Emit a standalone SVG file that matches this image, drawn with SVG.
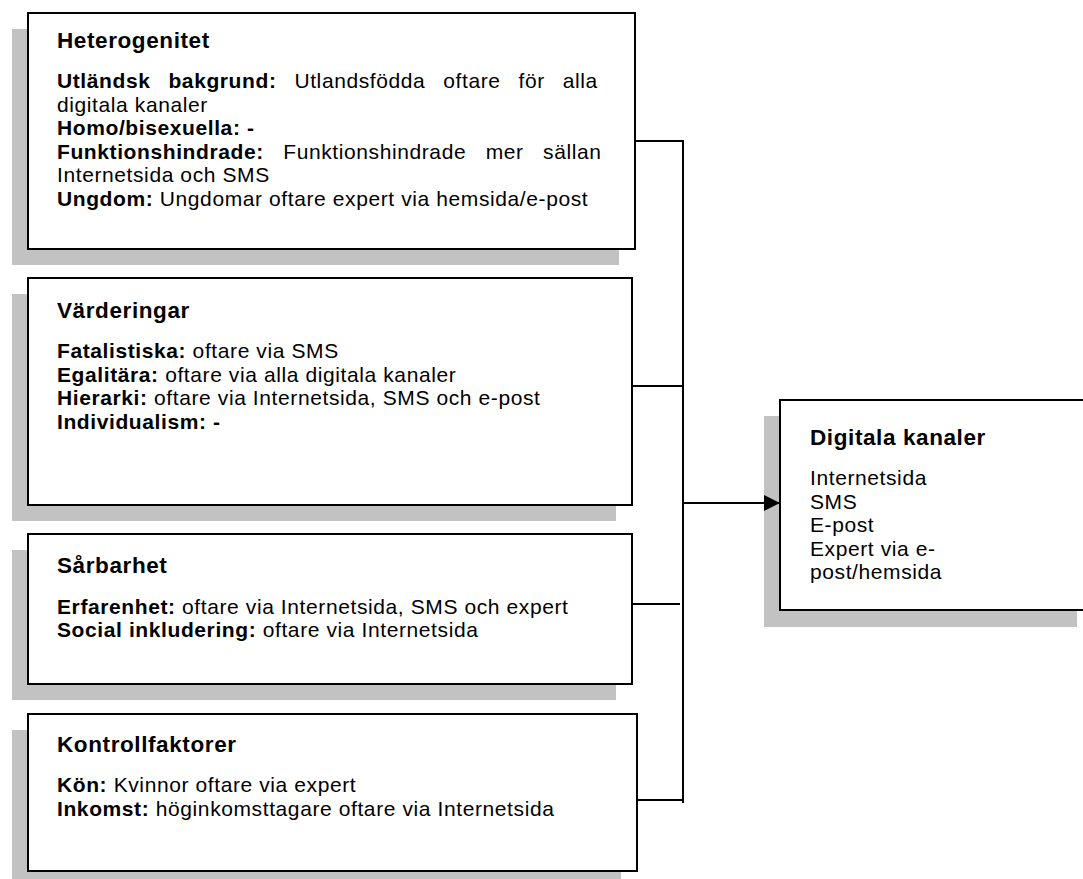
<svg xmlns="http://www.w3.org/2000/svg" width="1083" height="879" viewBox="0 0 1083 879">
<style>
.shadow{fill:#c2c2c2;}
.box{fill:#fff;stroke:#000;stroke-width:2;}
.conn{stroke:#000;stroke-width:2;fill:none;}
text{font-family:"Liberation Sans",Arial,Helvetica,sans-serif;font-size:21px;fill:#000;letter-spacing:0.6px;}
.b{font-weight:bold;}
.t{font-weight:bold;font-size:22.5px;letter-spacing:0.6px;}
</style>
<defs>
<marker id="arrow" markerWidth="16" markerHeight="16" refX="16" refY="8" orient="auto" markerUnits="userSpaceOnUse">
<path d="M0,0 L16,8 L0,16 Z" fill="#000"/>
</marker>
</defs>
<rect width="1083" height="879" fill="#fff"/>

<g id="heterogenitet">
<rect class="shadow" x="12" y="29" width="607" height="236"/>
<rect class="box" x="28" y="13" width="607" height="236"/>
<text x="57" y="47.5" class="t">Heterogenitet</text>
<text x="57" y="88" style="word-spacing:11.5px"><tspan class="b">Utländsk bakgrund:</tspan> Utlandsfödda oftare för alla</text>
<text x="57" y="111.5">digitala kanaler</text>
<text x="57" y="135" class="b">Homo/bisexuella: -</text>
<text x="57" y="158.5" style="word-spacing:13px"><tspan class="b">Funktionshindrade:</tspan> Funktionshindrade mer sällan</text>
<text x="57" y="182">Internetsida och SMS</text>
<text x="57" y="205.5"><tspan class="b">Ungdom:</tspan> Ungdomar oftare expert via hemsida/e-post</text>
</g>

<g id="varderingar">
<rect class="shadow" x="12" y="294" width="604" height="227"/>
<rect class="box" x="28" y="278" width="604" height="227"/>
<text x="57" y="318" class="t">Värderingar</text>
<text x="57" y="358"><tspan class="b">Fatalistiska:</tspan> oftare via SMS</text>
<text x="57" y="381.5"><tspan class="b">Egalitära:</tspan> oftare via alla digitala kanaler</text>
<text x="57" y="405"><tspan class="b">Hierarki:</tspan> oftare via Internetsida, SMS och e-post</text>
<text x="57" y="428.5" class="b">Individualism: -</text>
</g>

<g id="sarbarhet">
<rect class="shadow" x="12" y="550" width="604" height="150"/>
<rect class="box" x="28" y="534" width="604" height="150"/>
<text x="57" y="573" class="t">Sårbarhet</text>
<text x="57" y="613.5"><tspan class="b">Erfarenhet:</tspan> oftare via Internetsida, SMS och expert</text>
<text x="57" y="637"><tspan class="b">Social inkludering:</tspan> oftare via Internetsida</text>
</g>

<g id="kontrollfaktorer">
<rect class="shadow" x="12" y="730" width="609" height="157"/>
<rect class="box" x="28" y="714" width="609" height="157"/>
<text x="57" y="752" class="t">Kontrollfaktorer</text>
<text x="57" y="792"><tspan class="b">Kön:</tspan> Kvinnor oftare via expert</text>
<text x="57" y="815.5"><tspan class="b">Inkomst:</tspan> höginkomsttagare oftare via Internetsida</text>
</g>

<g id="digitala-kanaler">
<rect class="shadow" x="764" y="416" width="313" height="211"/>
<rect class="box" x="780" y="400" width="313" height="210"/>
<text x="810" y="445" class="t">Digitala kanaler</text>
<text x="810" y="485">Internetsida</text>
<text x="810" y="508.5">SMS</text>
<text x="810" y="532">E-post</text>
<text x="810" y="555.5">Expert via e-</text>
<text x="810" y="579">post/hemsida</text>
</g>

<g id="connectors">
<line class="conn" x1="635" y1="141" x2="683" y2="141"/>
<line class="conn" x1="632" y1="386" x2="683" y2="386"/>
<line class="conn" x1="632" y1="604" x2="680" y2="604"/>
<line class="conn" x1="637" y1="800" x2="683" y2="800"/>
<line class="conn" x1="683" y1="140" x2="683" y2="803"/>
<line class="conn" x1="683" y1="503" x2="780" y2="503" marker-end="url(#arrow)"/>
</g>
</svg>
